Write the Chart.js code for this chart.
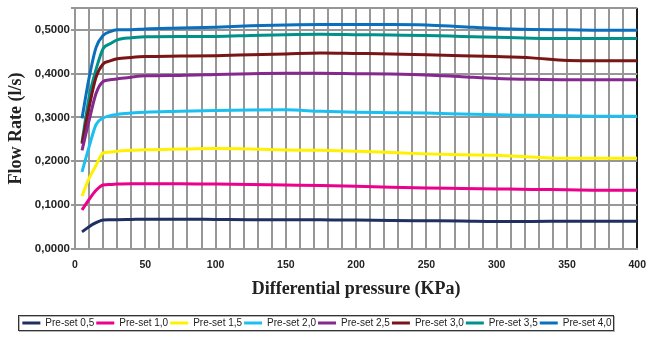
<!DOCTYPE html>
<html>
<head>
<meta charset="utf-8">
<script src="https://cdn.jsdelivr.net/npm/chart.js@4"></script>
<style>
  body { margin: 0; background: #fff; }
</style>
</head>
<body>
<canvas id="myChart" width="646" height="338"></canvas>
<script>
// pressure points (KPa)
const pressure = [5, 10, 15, 20, 25, 30, 40, 50, 75, 100, 125, 150, 175, 200, 225, 250, 275, 300, 325, 350, 375, 400];

// flow rate (l/s) per pre-set
const preset05 = [0.039, 0.051, 0.060, 0.066, 0.0665, 0.067, 0.0675, 0.068, 0.068, 0.0675, 0.067, 0.067, 0.0665, 0.066, 0.065, 0.0645, 0.064, 0.063, 0.063, 0.0635, 0.0635, 0.0635];
const preset10 = [0.089, 0.113, 0.134, 0.146, 0.147, 0.148, 0.149, 0.149, 0.149, 0.148, 0.147, 0.146, 0.145, 0.143, 0.141, 0.139, 0.138, 0.137, 0.136, 0.135, 0.134, 0.134];
const preset15 = [0.121, 0.161, 0.191, 0.219, 0.221, 0.223, 0.225, 0.2265, 0.228, 0.229, 0.228, 0.226, 0.225, 0.223, 0.220, 0.217, 0.215, 0.214, 0.210, 0.207, 0.207, 0.207];
const preset20 = [0.176, 0.233, 0.284, 0.299, 0.304, 0.307, 0.310, 0.312, 0.314, 0.316, 0.317, 0.3175, 0.314, 0.312, 0.311, 0.310, 0.308, 0.306, 0.305, 0.304, 0.303, 0.303];
const preset25 = [0.225, 0.293, 0.355, 0.382, 0.386, 0.388, 0.392, 0.395, 0.396, 0.398, 0.400, 0.401, 0.401, 0.400, 0.399, 0.397, 0.393, 0.389, 0.387, 0.386, 0.386, 0.386];
const preset30 = [0.240, 0.323, 0.392, 0.422, 0.429, 0.434, 0.437, 0.439, 0.440, 0.441, 0.443, 0.445, 0.447, 0.446, 0.445, 0.443, 0.441, 0.439, 0.436, 0.430, 0.4295, 0.4295];
const preset35 = [0.243, 0.346, 0.410, 0.457, 0.468, 0.477, 0.482, 0.484, 0.485, 0.485, 0.487, 0.489, 0.490, 0.489, 0.488, 0.487, 0.485, 0.483, 0.481, 0.480, 0.480, 0.480];
const preset40 = [0.298, 0.390, 0.460, 0.487, 0.496, 0.500, 0.500, 0.502, 0.504, 0.506, 0.509, 0.511, 0.512, 0.512, 0.512, 0.511, 0.507, 0.503, 0.501, 0.500, 0.499, 0.499];

const seriesLabels = ["Pre-set 0,5", "Pre-set 1,0", "Pre-set 1,5", "Pre-set 2,0", "Pre-set 2,5", "Pre-set 3,0", "Pre-set 3,5", "Pre-set 4,0"];
const seriesValues = [preset05, preset10, preset15, preset20, preset25, preset30, preset35, preset40];
const seriesColors = ["#1f2f62", "#ec008c", "#fff200", "#1cc0f0", "#86298f", "#7a1517", "#00918a", "#0a70be"];

const gridGray = "#979797";

// nudge legend a bit left and draw the frame round it
const legendFrame = {
  id: "legendFrame",
  afterLayout(chart) {
    chart.legend.left -= 6;
    chart.legend.right -= 6;
  },
  afterDraw(chart) {
    const boxes = chart.legend.legendHitBoxes;
    if (!boxes || !boxes.length) return;
    let left = Infinity, right = -Infinity;
    boxes.forEach(b => {
      left = Math.min(left, b.left);
      right = Math.max(right, b.left + b.width);
    });
    const mid = Math.round(boxes[0].top + boxes[0].height / 2);
    const c = chart.ctx;
    c.save();
    c.lineWidth = 1;
    c.strokeStyle = "#b5b5b5";
    c.strokeRect(Math.round(left) - 2.5, mid - 6.5, Math.round(right - left) + 6, 15);
    c.strokeStyle = "#333";
    c.strokeRect(Math.round(left) - 3.5, mid - 7.5, Math.round(right - left) + 6, 15);
    c.restore();
  }
};

var ctx = document.getElementById("myChart");
const data = {
  datasets: seriesValues.map((vals, i) => ({
    label: seriesLabels[i],
    data: pressure.map((p, j) => ({ x: p, y: vals[j] })),
    borderColor: seriesColors[i],
    backgroundColor: seriesColors[i],
    borderWidth: 3,
    pointRadius: 0,
    fill: false,
    cubicInterpolationMode: "monotone",
  })),
};

const config = {
  type: "line",
  data: data,
  options: {
    responsive: false,
    animation: false,
    layout: { padding: { top: 7, left: 0, right: 0, bottom: 0 } },
    plugins: {
      tooltip: { enabled: false },
      legend: {
        position: "bottom",
        labels: {
          usePointStyle: true,
          pointStyle: "line",
          pointStyleWidth: 18,
          padding: 2,
          color: "#222",
          font: { family: "'Liberation Sans', Arial, sans-serif", size: 10 },
        },
      },
    },
    scales: {
      x: {
        type: "linear",
        min: 0,
        max: 400,
        afterFit: s => { s.height = 67; },
        ticks: {
          stepSize: 10,
          autoSkip: false,
          maxRotation: 0,
          padding: 0,
          color: "#222",
          font: { family: "'Liberation Sans', Arial, sans-serif", size: 10.5, weight: "bold" },
          callback: v => (v % 50 === 0 ? String(v) : ""),
        },
        grid: {
          drawTicks: true,
          tickLength: 10,
          tickColor: "rgba(0,0,0,0)",
          lineWidth: 2,
          color: c => (c.tick && c.tick.value === 400 ? "#1a1a1a" : gridGray),
        },
        border: { color: gridGray, width: 2 },
        title: {
          display: true,
          text: "Differential pressure (KPa)",
          color: "#222",
          padding: { top: 0, bottom: 16 },
          font: { family: "'Liberation Serif', 'Times New Roman', serif", size: 18, weight: "bold" },
        },
      },
      y: {
        min: 0,
        max: 0.55,
        afterFit: s => { s.width = 75; },
        ticks: {
          stepSize: 0.1,
          padding: 1,
          color: "#222",
          font: { family: "'Liberation Sans', Arial, sans-serif", size: 11.5, weight: "bold" },
          callback: v => (v > 0.5001 ? "" : v.toFixed(4).replace(".", ",")),
        },
        grid: { lineWidth: 2, tickLength: 4, color: gridGray },
        border: { color: gridGray, width: 2 },
        title: {
          display: true,
          text: "Flow Rate (l/s)",
          color: "#222",
          padding: { top: 6, bottom: 0 },
          font: { family: "'Liberation Serif', 'Times New Roman', serif", size: 18, weight: "bold" },
        },
      },
    },
  },
  plugins: [legendFrame],
};

var myChart = new Chart(ctx, config);
</script>
</body>
</html>
